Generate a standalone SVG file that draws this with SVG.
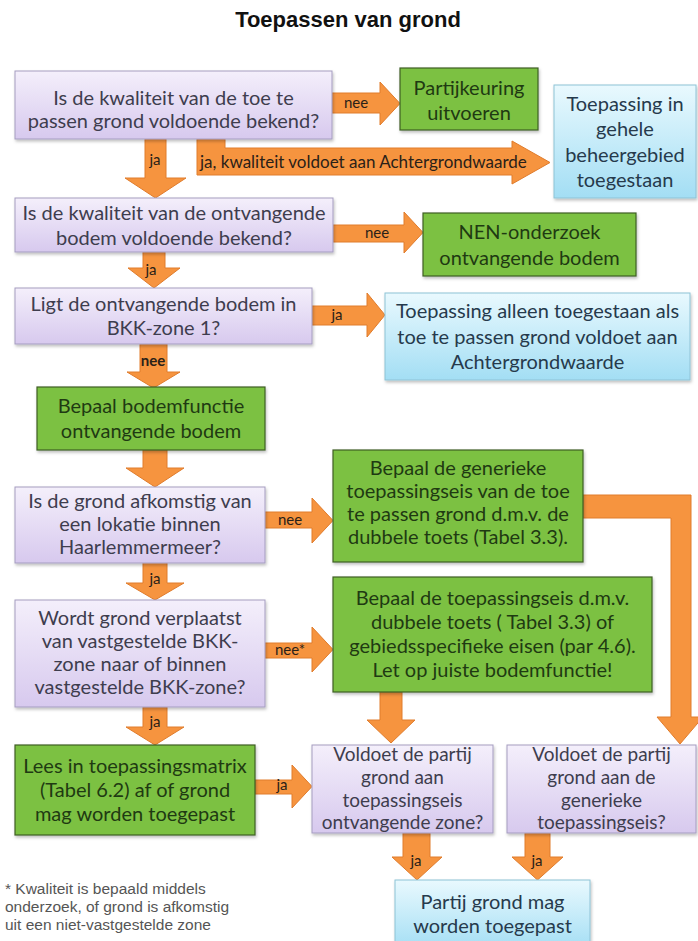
<svg xmlns="http://www.w3.org/2000/svg" width="698" height="941" viewBox="0 0 698 941">
<defs>
<linearGradient id="gPurple" x1="0" y1="0" x2="0" y2="1">
<stop offset="0" stop-color="#f4effb"/>
<stop offset="1" stop-color="#d7c9ee"/>
</linearGradient>
<linearGradient id="gBlue" x1="0" y1="0" x2="0" y2="1">
<stop offset="0" stop-color="#e9f9fe"/>
<stop offset="1" stop-color="#a3def4"/>
</linearGradient>
<filter id="sh" x="-10%" y="-10%" width="120%" height="130%">
<feDropShadow dx="1" dy="2" stdDeviation="1.5" flood-color="#000" flood-opacity="0.25"/>
</filter>
</defs>
<style>
.p{fill:url(#gPurple);stroke:#a59dc0;stroke-width:1;filter:url(#sh)}
.g{fill:#7bc143;stroke:#3f5f24;stroke-width:1.2;filter:url(#sh)}
.b{fill:url(#gBlue);stroke:#8ec3d6;stroke-width:1;filter:url(#sh)}
.t{font-family:Lato,"Liberation Sans",sans-serif;font-size:20px;text-anchor:middle}
.s{font-size:19px}
.tp{fill:#3e3d4e}
.tg{fill:#1f3a12}
.tb{fill:#263a4c}
.a{fill:#f6943f;stroke:#e07c2c;stroke-width:1}
.l{font-family:Lato,"Liberation Sans",sans-serif;font-size:15px;fill:#2a2118;text-anchor:middle}
</style>
<rect width="698" height="941" fill="#ffffff"/>
<text x="348" y="27" font-family="Liberation Sans, Arial, sans-serif" font-size="22" font-weight="bold" text-anchor="middle" fill="#111">Toepassen van grond</text>

<g id="connectors">
<polygon class="a" points="145,139 166,139 166,178 186,178 155.5,198 125,178 145,178"/>
<text class="l" x="155" y="165">ja</text>
<polygon class="a" points="197,139 225,139 225,148 512,148 512,141 550,162.5 512,184 512,175 197,175"/>
<text class="l" x="200" y="168" style="text-anchor:start;font-size:17px">ja, kwaliteit voldoet aan Achtergrondwaarde</text>
<polygon class="a" points="332,93 380,93 380,82 400,103.5 380,125 380,113 332,113"/>
<text class="l" x="356" y="108">nee</text>
<polygon class="a" points="143,252 165,252 165,268 180,268 154,288 128,268 143,268"/>
<text class="l" x="151" y="275">ja</text>
<polygon class="a" points="333,225 404,225 404,212 423,232.5 404,253 404,242 333,242"/>
<text class="l" x="377" y="238">nee</text>
<polygon class="a" points="312,306 367,306 367,293 385,315 367,337 367,325 312,325"/>
<text class="l" x="337" y="320">ja</text>
<polygon class="a" points="140,344 167,344 167,372 180,372 153.5,388 127,372 140,372"/>
<text class="l" x="153" y="366" font-weight="bold">nee</text>
<polygon class="a" points="143,450 167,450 167,468 184,468 155,487 126,468 143,468"/>
<polygon class="a" points="265,512 312,512 312,498 333,520.5 312,543 312,528 265,528"/>
<text class="l" x="290" y="525">nee</text>
<polygon class="a" points="143,562 167,562 167,583 184,583 155,600 126,583 143,583"/>
<text class="l" x="155" y="584">ja</text>
<polygon class="a" points="265,643 312,643 312,627 333,649.5 312,672 312,658 265,658"/>
<text class="l" x="290" y="655">nee*</text>
<polygon class="a" points="143,707 167,707 167,727 184,727 155,745 126,727 143,727"/>
<text class="l" x="155" y="727">ja</text>
<polygon class="a" points="255,780 292,780 292,765 312,786.5 292,808 292,794 255,794"/>
<text class="l" x="282" y="790">ja</text>
<polygon class="a" points="583,495 691,495 691,717 703,717 680,744 657,717 671,717 671,518 583,518"/>
<polygon class="a" points="380,692 402,692 402,720 415,720 391,743 367,720 380,720"/>
<polygon class="a" points="403,833 430,833 430,857 442,857 417,880 392,857 403,857"/>
<text class="l" x="416" y="866">ja</text>
<polygon class="a" points="525,833 550,833 550,857 563,857 537.5,880 512,857 525,857"/>
<text class="l" x="537" y="866">ja</text>
</g>

<g id="n1">
<rect class="p" x="15" y="71" width="317" height="68"/>
<text class="t tp" x="173.5" y="105">Is de kwaliteit van de toe te</text>
<text class="t tp" x="173.5" y="128">passen grond voldoende bekend?</text>
</g>
<g id="n2">
<rect class="g" x="400" y="68" width="138" height="62"/>
<text class="t tg" x="469" y="95">Partijkeuring</text>
<text class="t tg" x="469" y="120">uitvoeren</text>
</g>
<g id="n3">
<rect class="b" x="554" y="85" width="142" height="113"/>
<text class="t tb" x="625" y="111">Toepassing in</text>
<text class="t tb" x="625" y="136">gehele</text>
<text class="t tb" x="625" y="162">beheergebied</text>
<text class="t tb" x="625" y="187">toegestaan</text>
</g>
<g id="n4">
<rect class="p" x="15" y="198" width="318" height="54"/>
<text class="t tp" x="174" y="220">Is de kwaliteit van de ontvangende</text>
<text class="t tp" x="174" y="245">bodem voldoende bekend?</text>
</g>
<g id="n5">
<rect class="g" x="423" y="213" width="213" height="63"/>
<text class="t tg" x="529.5" y="239">NEN-onderzoek</text>
<text class="t tg" x="529.5" y="265">ontvangende bodem</text>
</g>
<g id="n6">
<rect class="p" x="15" y="288" width="297" height="56"/>
<text class="t tp" x="163.5" y="311">Ligt de ontvangende bodem in</text>
<text class="t tp" x="163.5" y="335">BKK-zone 1?</text>
</g>
<g id="n7">
<rect class="b" x="385" y="293" width="305" height="87"/>
<text class="t tb" x="537.5" y="318">Toepassing alleen toegestaan als</text>
<text class="t tb" x="537.5" y="344">toe te passen grond voldoet aan</text>
<text class="t tb" x="537.5" y="369">Achtergrondwaarde</text>
</g>
<g id="n8">
<rect class="g" x="37" y="387" width="228" height="63"/>
<text class="t tg" x="151" y="413">Bepaal bodemfunctie</text>
<text class="t tg" x="151" y="438">ontvangende bodem</text>
</g>
<g id="n9">
<rect class="p" x="15" y="487" width="250" height="76"/>
<text class="t tp" x="140" y="508">Is de grond afkomstig van</text>
<text class="t tp" x="140" y="531">een lokatie binnen</text>
<text class="t tp" x="140" y="554">Haarlemmermeer?</text>
</g>
<g id="n10">
<rect class="g" x="333" y="450" width="250" height="112"/>
<text class="t tg" x="458" y="475">Bepaal de generieke</text>
<text class="t tg" x="458" y="498">toepassingseis van de toe</text>
<text class="t tg" x="458" y="521">te passen grond d.m.v. de</text>
<text class="t tg" x="458" y="544">dubbele toets (Tabel 3.3).</text>
</g>
<g id="n11">
<rect class="p" x="15" y="600" width="250" height="107"/>
<text class="t tp" x="140" y="625">Wordt grond verplaatst</text>
<text class="t tp" x="140" y="648">van vastgestelde BKK-</text>
<text class="t tp" x="140" y="671">zone naar of binnen</text>
<text class="t tp" x="140" y="694">vastgestelde BKK-zone?</text>
</g>
<g id="n12">
<rect class="g" x="333" y="577" width="319" height="115"/>
<text class="t tg" x="492.5" y="605">Bepaal de toepassingseis d.m.v.</text>
<text class="t tg" x="492.5" y="629">dubbele toets ( Tabel 3.3) of</text>
<text class="t tg" x="492.5" y="653">gebiedsspecifieke eisen (par 4.6).</text>
<text class="t tg" x="492.5" y="677">Let op juiste bodemfunctie!</text>
</g>
<g id="n13">
<rect class="g" x="15" y="745" width="240" height="90"/>
<text class="t tg" x="135" y="773">Lees in toepassingsmatrix</text>
<text class="t tg" x="135" y="797">(Tabel 6.2) af of grond</text>
<text class="t tg" x="135" y="821">mag worden toegepast</text>
</g>
<g id="n14">
<rect class="p" x="312" y="745" width="181" height="88"/>
<text class="t s tp" x="402.5" y="761">Voldoet de partij</text>
<text class="t s tp" x="402.5" y="784">grond aan</text>
<text class="t s tp" x="402.5" y="807">toepassingseis</text>
<text class="t s tp" x="402.5" y="829">ontvangende zone?</text>
</g>
<g id="n15">
<rect class="p" x="507" y="745" width="189" height="88"/>
<text class="t s tp" x="601.5" y="761">Voldoet de partij</text>
<text class="t s tp" x="601.5" y="784">grond aan de</text>
<text class="t s tp" x="601.5" y="807">generieke</text>
<text class="t s tp" x="601.5" y="829">toepassingseis?</text>
</g>
<g id="n16">
<rect class="b" x="395" y="880" width="195" height="70"/>
<text class="t tb" x="492.5" y="909">Partij grond mag</text>
<text class="t tb" x="492.5" y="933">worden toegepast</text>
</g>
<g id="footnote" font-family="Liberation Sans, Arial, sans-serif" font-size="15.5" fill="#555">
<text x="5" y="894">* Kwaliteit is bepaald middels</text>
<text x="5" y="912">onderzoek, of grond is afkomstig</text>
<text x="5" y="930">uit een niet-vastgestelde zone</text>
</g>
</svg>
